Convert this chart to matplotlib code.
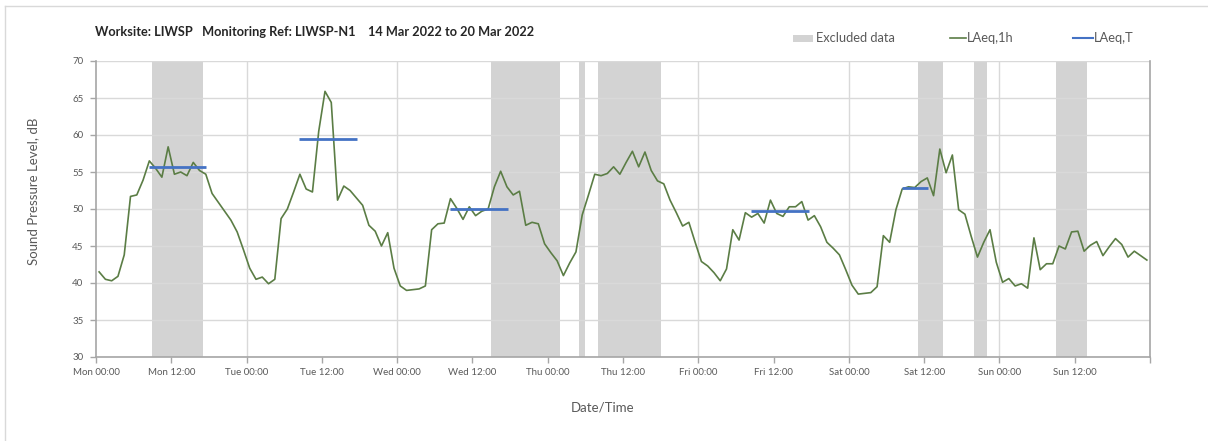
import numpy as np
import matplotlib
matplotlib.use("Agg")
import matplotlib.pyplot as plt
from matplotlib.patches import Rectangle
from matplotlib.lines import Line2D

# ---- data ----
laeq_1h = [
    41.5, 40.5, 40.3, 40.9, 43.8, 51.7, 51.9, 53.9, 56.5, 55.5, 54.3, 58.4,
    54.7, 55.0, 54.5, 56.3, 55.2, 54.7, 52.1, 50.9, 49.7, 48.5, 46.9, 44.5,
    42.0, 40.5, 40.8, 39.9, 40.5, 48.7, 50.0, 52.3, 54.7, 52.7, 52.3, 60.5,
    65.9, 64.4, 51.2, 53.1, 52.5, 51.5,
    50.5, 47.8, 47.0, 45.0, 46.8, 42.0, 39.6, 39.0, 39.1, 39.2, 39.6, 47.2,
    48.0, 48.1, 51.4, 50.1, 48.6, 50.3, 49.1, 49.7, 50.0, 53.0, 55.1, 53.0,
    51.9, 52.4, 47.8, 48.2, 48.0, 45.3, 44.1, 43.0, 41.0, 42.7, 44.2, 49.2,
    51.9, 54.7, 54.5, 54.8, 55.7, 54.7,
    56.3, 57.8, 55.7, 57.7, 55.2, 53.8, 53.4, 51.2, 49.5, 47.7, 48.2, 45.5,
    42.9, 42.3, 41.4, 40.3, 41.9, 47.2, 45.8, 49.5, 48.9, 49.4, 48.1, 51.2,
    49.4, 49.0, 50.3, 50.3, 51.0, 48.5, 49.1, 47.6, 45.5, 44.7, 43.8, 41.8,
    39.7, 38.5, 38.6, 38.7, 39.5,
    46.4, 45.5, 49.9, 52.7, 53.0, 52.9, 53.7, 54.2, 51.8, 58.1, 54.9, 57.3,
    49.9, 49.3, 46.3, 43.5, 45.5, 47.2, 42.8, 40.1, 40.6, 39.6, 39.9, 39.3,
    46.1, 41.8, 42.6, 42.6, 45.0, 44.6, 46.9, 47.0, 44.3, 45.1, 45.6, 43.7,
    44.9, 46.0, 45.2, 43.5, 44.3, 43.7, 43.1,
]
hours = np.arange(len(laeq_1h)) + 0.5   # hourly samples, hours since Mon 00:00

excl_start = [9, 63, 77, 80, 131, 140, 153]
excl_end = [17, 74, 78, 90, 135, 142, 158]

laeqT_start = [8.4, 32.4, 56.4, 104.4, 128.4]
laeqT_end = [17.6, 41.6, 65.6, 113.6, 132.6]
laeqT_level = [55.7, 59.5, 50.0, 49.7, 52.8]

tick_hours = list(range(0, 169, 12))
tick_labels = ["Mon 00:00", "Mon 12:00", "Tue 00:00", "Tue 12:00",
               "Wed 00:00", "Wed 12:00", "Thu 00:00", "Thu 12:00",
               "Fri 00:00", "Fri 12:00", "Sat 00:00", "Sat 12:00",
               "Sun 00:00", "Sun 12:00", ""]
day_lines = [24, 48, 72, 96, 120, 144]

title = "Worksite: LIWSP   Monitoring Ref: LIWSP-N1    14 Mar 2022 to 20 Mar 2022"

# ---- style ----
plt.rcParams['font.family'] = ['Lato', 'DejaVu Sans']
W, H = 1208, 441
fig = plt.figure(figsize=(W / 100, H / 100), dpi=100)
ax = fig.add_axes([96 / W, 1 - 357 / H, (1150 - 96) / W, (357 - 61) / H])

GREEN = "#5b7d45"
BLUE = "#4472c4"
BAND = "#d3d3d3"
GRID = "#d9d9d9"
SPINE = "#a6a6a6"
TXT = "#595959"

for s, e in zip(excl_start, excl_end):
    ax.axvspan(s, e, color=BAND, lw=0, zorder=1)

ax.set_xlim(0, 168)
ax.set_ylim(30, 70)
ax.set_yticks(range(30, 71, 5))
ax.set_xticks(tick_hours)
ax.set_xticklabels(tick_labels)
ax.grid(axis='y', color=GRID, lw=1.0, zorder=0)
for d in day_lines:
    ax.axvline(d, color=GRID, lw=1.0, zorder=0)

ax.plot(hours, laeq_1h, color=GREEN, lw=1.2, zorder=3)
ax.hlines(laeqT_level, laeqT_start, laeqT_end, color=BLUE, lw=2.0, zorder=4)

for side in ['left', 'bottom', 'right']:
    ax.spines[side].set_color(SPINE)
    ax.spines[side].set_linewidth(1.2)
ax.spines['top'].set_visible(False)
ax.tick_params(axis='both', colors=SPINE, labelcolor=TXT, labelsize=7, length=4, width=1)
ax.tick_params(axis='x', pad=4)
ax.tick_params(axis='y', pad=5)

fig.text(33 / W, 1 - 191 / H, "Sound Pressure Level, dB", rotation=90,
         ha='center', va='center', fontsize=9.5, color=TXT)
fig.text(603 / W, 1 - 408 / H, "Date/Time", ha='center', va='center',
         fontsize=9.5, color=TXT)
fig.text(95 / W, 1 - 32 / H, title, ha='left', va='center', fontsize=9.2,
         fontweight='bold', color="#262626")

# legend (figure pixel positions)
def fx(x):
    return x / W

def fy(y):
    return 1 - y / H

fig.add_artist(Rectangle((fx(793), fy(42)), 20 / W, 7 / H, transform=fig.transFigure,
                         facecolor=BAND, edgecolor='none'))
fig.text(fx(816), fy(38), "Excluded data", ha='left', va='center', fontsize=9.3, color=TXT)
fig.add_artist(Line2D([fx(950), fx(966)], [fy(38), fy(38)], transform=fig.transFigure,
                      color=GREEN, lw=1.2))
fig.text(fx(967), fy(38), "LAeq,1h", ha='left', va='center', fontsize=9.3, color=TXT)
fig.add_artist(Line2D([fx(1073), fx(1093)], [fy(38), fy(38)], transform=fig.transFigure,
                      color=BLUE, lw=1.5))
fig.text(fx(1094), fy(38), "LAeq,T", ha='left', va='center', fontsize=9.3, color=TXT)

# outer chart frame (top and left edges visible)
fig.add_artist(Line2D([fx(5), fx(1208)], [fy(6), fy(6)], transform=fig.transFigure,
                      color="#d9d9d9", lw=1))
fig.add_artist(Line2D([fx(5), fx(5)], [fy(6), fy(441)], transform=fig.transFigure,
                      color="#d9d9d9", lw=1))

fig.savefig("out.png", dpi=100)
